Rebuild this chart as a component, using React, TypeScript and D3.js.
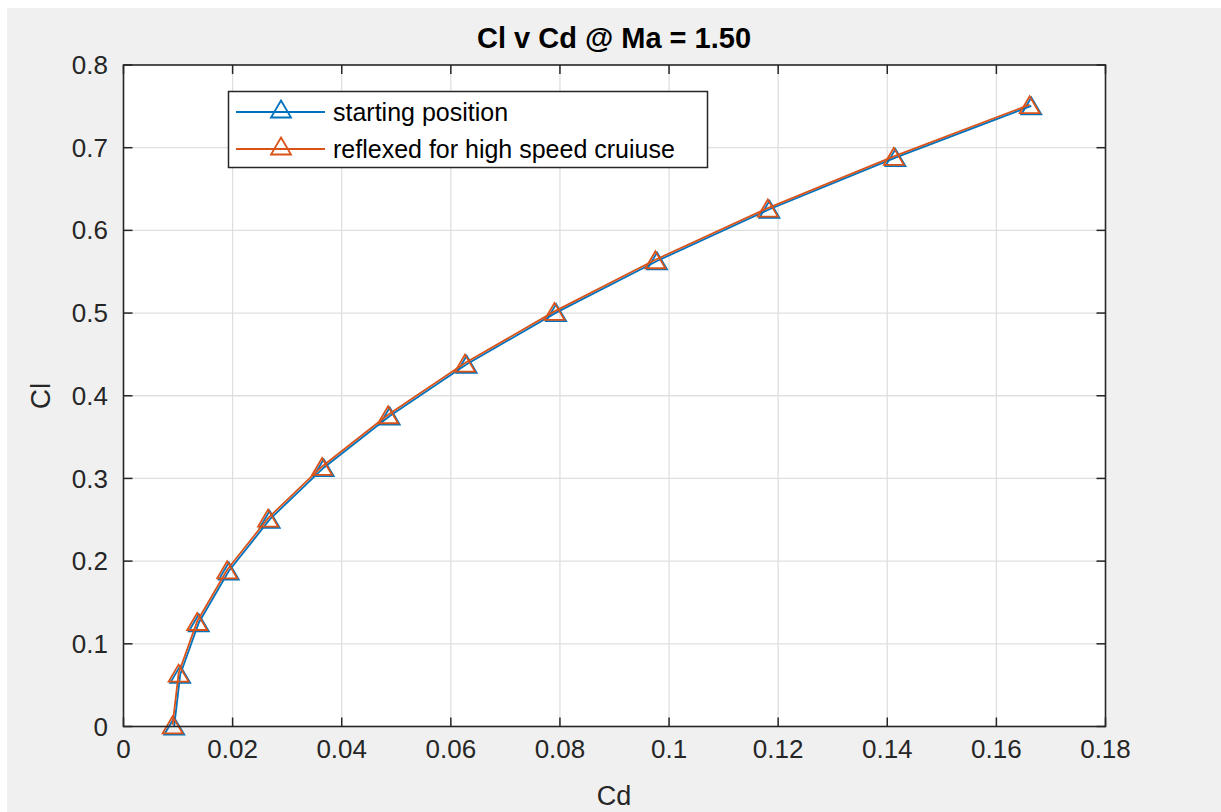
import React from "react";
import * as d3 from "d3";

// ---- data ----
const cdStarting = [0.0093, 0.0104, 0.0138, 0.0193, 0.0268, 0.0367, 0.0488, 0.0629, 0.0793, 0.0978, 0.1184, 0.1415, 0.1664];
const clStarting = [0.0005, 0.063, 0.1255, 0.188, 0.2505, 0.313, 0.3755, 0.438, 0.5005, 0.563, 0.6255, 0.688, 0.7505];
const cdReflexed = [0.0090, 0.0101, 0.0135, 0.0190, 0.0265, 0.0364, 0.0485, 0.0626, 0.0790, 0.0975, 0.1181, 0.1412, 0.1661];
const clReflexed = [0.002, 0.0645, 0.127, 0.1895, 0.252, 0.3145, 0.377, 0.4395, 0.502, 0.5645, 0.627, 0.6895, 0.752];
const xTicks = [0, 0.02, 0.04, 0.06, 0.08, 0.1, 0.12, 0.14, 0.16, 0.18];
const xTickLabels = ["0", "0.02", "0.04", "0.06", "0.08", "0.1", "0.12", "0.14", "0.16", "0.18"];
const yTicks = [0, 0.1, 0.2, 0.3, 0.4, 0.5, 0.6, 0.7, 0.8];
const yTickLabels = ["0", "0.1", "0.2", "0.3", "0.4", "0.5", "0.6", "0.7", "0.8"];
const seriesNames = ["starting position", "reflexed for high speed cruiuse"];
const seriesColors = ["#0072BD", "#D95319"];

const W = 1221;
const H = 812;
const L = 123.5, R = 1105.5, T = 65, B = 726.5;
const FONT = "Arial, 'Liberation Sans', Helvetica, sans-serif";

export default function App() {
  const x = d3.scaleLinear().domain([0, 0.18]).range([L, R]);
  const y = d3.scaleLinear().domain([0, 0.8]).range([B, T]);
  const line = d3.line<[number, number]>().x((d) => x(d[0])).y((d) => y(d[1]));
  const series = [
    cdStarting.map((c, i) => [c, clStarting[i]] as [number, number]),
    cdReflexed.map((c, i) => [c, clReflexed[i]] as [number, number]),
  ];
  const tri = (cx: number, cy: number, s = 1) => {
    const hw = 10 * s, hh = 8.5 * s;
    return `M${cx},${cy - hh}L${cx + hw},${cy + hh}L${cx - hw},${cy + hh}Z`;
  };
  const tickLen = 9;
  const axisColor = "#262626";
  const textColor = "#262626";

  return (
    <svg
      width={W - 7}
      height={H - 8}
      style={{ position: "absolute", left: 7, top: 8, display: "block" }}
    >
      <g transform="translate(-7,-8)">
        <rect x={7} y={8} width={W - 7} height={H - 8} fill="#f0f0f0" />
        <rect x={L} y={T} width={R - L} height={B - T} fill="#ffffff" />
        {/* grid */}
        {xTicks.slice(1, -1).map((t) => (
          <line key={"gx" + t} x1={x(t)} x2={x(t)} y1={T} y2={B} stroke="#dfdfdf" strokeWidth={1.3} />
        ))}
        {yTicks.slice(1, -1).map((t) => (
          <line key={"gy" + t} x1={L} x2={R} y1={y(t)} y2={y(t)} stroke="#dfdfdf" strokeWidth={1.3} />
        ))}
        {/* ticks */}
        {xTicks.map((t) => (
          <g key={"tx" + t}>
            <line x1={x(t)} x2={x(t)} y1={B} y2={B - tickLen} stroke={axisColor} strokeWidth={1.5} />
            <line x1={x(t)} x2={x(t)} y1={T} y2={T + tickLen} stroke={axisColor} strokeWidth={1.5} />
          </g>
        ))}
        {yTicks.map((t) => (
          <g key={"ty" + t}>
            <line x1={L} x2={L + tickLen} y1={y(t)} y2={y(t)} stroke={axisColor} strokeWidth={1.5} />
            <line x1={R} x2={R - tickLen} y1={y(t)} y2={y(t)} stroke={axisColor} strokeWidth={1.5} />
          </g>
        ))}
        {/* series */}
        {series.map((s, i) => (
          <g key={"s" + i}>
            <path d={line(s) ?? ""} fill="none" stroke={seriesColors[i]} strokeWidth={1.8} />
            {s.map((p, j) => (
              <path key={j} d={tri(x(p[0]), y(p[1]))} fill="none" stroke={seriesColors[i]} strokeWidth={1.8} />
            ))}
          </g>
        ))}
        {/* box */}
        <rect x={L} y={T} width={R - L} height={B - T} fill="none" stroke={axisColor} strokeWidth={1.6} />
        {/* tick labels */}
        {xTicks.map((t, i) => (
          <text key={"lx" + t} x={x(t)} y={758} textAnchor="middle" fontFamily={FONT} fontSize={26} fill={textColor}>
            {xTickLabels[i]}
          </text>
        ))}
        {yTicks.map((t, i) => (
          <text key={"ly" + t} x={108} y={y(t)} dy="0.35em" textAnchor="end" fontFamily={FONT} fontSize={26} fill={textColor}>
            {yTickLabels[i]}
          </text>
        ))}
        {/* axis labels */}
        <text x={614} y={805} textAnchor="middle" fontFamily={FONT} fontSize={27} fill={textColor}>Cd</text>
        <text transform={`translate(50,396) rotate(-90)`} textAnchor="middle" fontFamily={FONT} fontSize={28} fill={textColor}>Cl</text>
        {/* title */}
        <text x={614} y={48} textAnchor="middle" fontFamily={FONT} fontSize={29} fontWeight="bold" fill="#000">
          Cl v Cd @ Ma = 1.50
        </text>
        {/* legend */}
        <rect x={228.5} y={91.5} width={479} height={76} fill="#ffffff" stroke={axisColor} strokeWidth={1.5} />
        {seriesNames.map((n, i) => {
          const ly = 112 + i * 37;
          return (
            <g key={"lg" + i}>
              <line x1={236} x2={325} y1={ly} y2={ly} stroke={seriesColors[i]} strokeWidth={1.8} />
              <path d={tri(281, ly - 3)} fill="none" stroke={seriesColors[i]} strokeWidth={1.8} />
              <text x={333} y={ly} dy="0.35em" fontFamily={FONT} fontSize={25} fill="#000">{n}</text>
            </g>
          );
        })}
      </g>
    </svg>
  );
}
